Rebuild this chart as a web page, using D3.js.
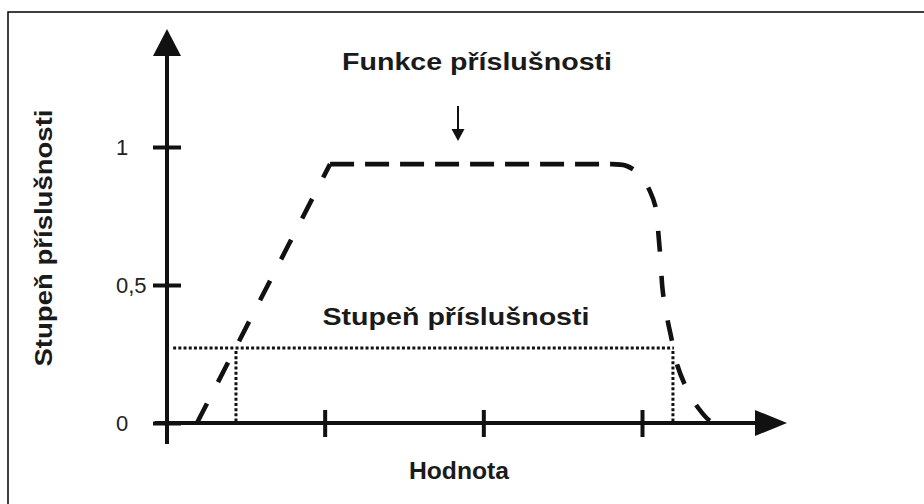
<!DOCTYPE html>
<html>
<head>
<meta charset="utf-8">
<script src="https://cdn.jsdelivr.net/npm/d3@7"></script>
<style>
  html, body { margin: 0; padding: 0; background: #fff; }
  svg { display: block; }
  text { font-family: "Liberation Sans", Arial, Helvetica, sans-serif; }
</style>
</head>
<body>
<svg id="chart" width="924" height="504"></svg>
<script>
// ---- data ----
const titleText = "Funkce příslušnosti";
const yAxisTitle = "Stupeň příslušnosti";
const xAxisTitle = "Hodnota";
const midLabel = "Stupeň příslušnosti";
const yTickValues = [0, 0.5, 1];
const yTickLabels = ["0", "0,5", "1"];
const xTickValues = [1, 2, 3];
// membership function: rising slope
const riseX = [0.195, 1.034];
const riseY = [0, 0.938];
// plateau + falling edge
const fallX = [1.034, 2.81, 2.90, 2.99, 3.05, 3.09, 3.104, 3.117, 3.13, 3.155, 3.185, 3.222, 3.28, 3.35, 3.43, 3.465];
const fallY = [0.938, 0.938, 0.932, 0.898, 0.840, 0.772, 0.681, 0.591, 0.482, 0.391, 0.308, 0.210, 0.127, 0.058, 0.007, 0];
// membership degree marker
const degreeValue = 0.272;
const degreeX = [0.441, 3.195];
const degreeLineStart = 0.045;

// ---- drawing ----
const svg = d3.select("#chart");
const x = d3.scaleLinear().domain([0, 3]).range([166, 642]);
const y = d3.scaleLinear().domain([0, 1]).range([423, 147]);
const axisX = 167;

// frame (top and left edges)
svg.append("rect").attr("x", 8).attr("y", 12).attr("width", 1000).attr("height", 1000)
  .attr("fill", "none").attr("stroke", "#000").attr("stroke-width", 1.5);

// y axis line + arrow
svg.append("line").attr("x1", axisX).attr("x2", axisX).attr("y1", 444).attr("y2", 52)
  .attr("stroke", "#111").attr("stroke-width", 4);
svg.append("path").attr("d", `M${axisX},29 L${axisX + 14},56 L${axisX - 14},56 Z`).attr("fill", "#111");

// x axis line + arrow
svg.append("line").attr("x1", 155).attr("x2", 760).attr("y1", y(0)).attr("y2", y(0))
  .attr("stroke", "#111").attr("stroke-width", 4);
svg.append("path").attr("d", `M787,${y(0)} L755,${y(0) - 13} L755,${y(0) + 13} Z`).attr("fill", "#111");

// y ticks via d3 axis
const yAxisG = svg.append("g").attr("transform", `translate(${axisX},0)`)
  .call(d3.axisLeft(y).tickValues(yTickValues).tickFormat((d, i) => yTickLabels[i]).tickSize(14));
yAxisG.select(".domain").remove();
yAxisG.selectAll(".tick line").attr("x1", -14).attr("x2", 14).attr("stroke", "#111").attr("stroke-width", 4);
yAxisG.selectAll(".tick text").attr("x", 116 - axisX).attr("text-anchor", "start")
  .attr("font-size", 22).attr("fill", "#222").attr("font-family", "'Liberation Sans', Arial, sans-serif");

// x ticks via d3 axis
const xAxisG = svg.append("g").attr("transform", `translate(0,${y(0)})`)
  .call(d3.axisBottom(x).tickValues(xTickValues).tickFormat("").tickSize(14));
xAxisG.select(".domain").remove();
xAxisG.selectAll(".tick line").attr("y1", -13).attr("y2", 14).attr("stroke", "#111").attr("stroke-width", 4);

// dotted membership degree lines
const dotStyle = sel => sel.attr("stroke", "#111").attr("stroke-width", 3).attr("stroke-dasharray", "3,2.2").attr("fill", "none");
svg.append("line").attr("x1", x(degreeLineStart)).attr("x2", x(degreeX[1]) + 1)
  .attr("y1", y(degreeValue)).attr("y2", y(degreeValue)).call(dotStyle);
degreeX.forEach(v => {
  svg.append("line").attr("x1", x(v)).attr("x2", x(v))
    .attr("y1", y(degreeValue) + 3).attr("y2", y(0) - 2).call(dotStyle);
});

// membership function (dashed)
const riseData = riseX.map((v, i) => [v, riseY[i]]);
const fallData = fallX.map((v, i) => [v, fallY[i]]);
const lineLin = d3.line().x(d => x(d[0])).y(d => y(d[1]));
svg.append("path").datum(riseData).attr("d", lineLin)
  .attr("fill", "none").attr("stroke", "#111").attr("stroke-width", 4.6)
  .attr("stroke-dasharray", "22,24");

const plateauPart = fallData.slice(0, 2);
const curvePart = fallData.slice(1);
const pathStr = lineLin(plateauPart) + d3.line().x(d => x(d[0])).y(d => y(d[1])).curve(d3.curveCatmullRom.alpha(0.5))(curvePart).replace(/^M[^LC]*/, "");
const dashes = [];
for (let i = 0; i < 8; i++) dashes.push(24, 11);
dashes.push(24);
for (let i = 0; i < 7; i++) dashes.push(24, 21);
dashes.push(200);
svg.append("path").attr("d", pathStr)
  .attr("fill", "none").attr("stroke", "#111").attr("stroke-width", 4.6)
  .attr("stroke-dasharray", dashes.join(","));

// labels
function boldText(str, tx, ty, len, rot) {
  const t = svg.append("text").text(str)
    .attr("font-weight", "bold").attr("font-size", 23.5).attr("fill", "#1a1a1a")
    .attr("text-anchor", "middle")
    .attr("textLength", len).attr("lengthAdjust", "spacingAndGlyphs");
  if (rot) t.attr("transform", `translate(${tx},${ty}) rotate(-90)`);
  else t.attr("x", tx).attr("y", ty);
  return t;
}
boldText(titleText, 477, 70, 270);
boldText(midLabel, 456, 325, 267);
boldText(xAxisTitle, 459, 479, 100);
boldText(yAxisTitle, 52, 238, 257, true);

// small arrow under title
svg.append("line").attr("x1", 458).attr("x2", 458).attr("y1", 106).attr("y2", 132)
  .attr("stroke", "#111").attr("stroke-width", 2);
svg.append("path").attr("d", "M458,141 L451.5,129 L464.5,129 Z").attr("fill", "#111");
</script>
</body>
</html>
